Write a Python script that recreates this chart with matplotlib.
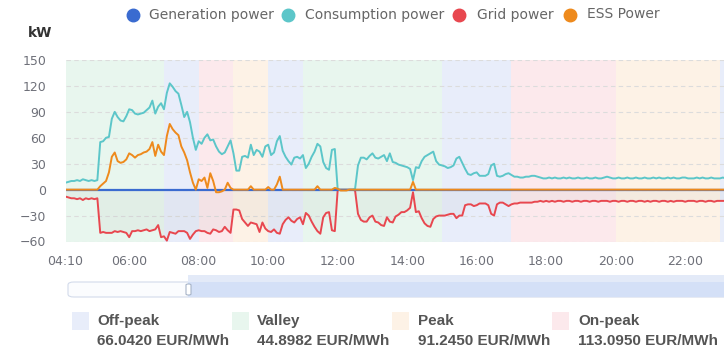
import matplotlib

matplotlib.use("Agg")
import matplotlib.pyplot as plt
import numpy as np
import pandas as pd
from matplotlib.lines import Line2D
from matplotlib.patches import FancyBboxPatch, Rectangle

W, H = 724, 355

# 5-minute samples from 04:10 to 23:10, one row per hour (starting at :10)
consumption = [
    8, 9, 10, 10, 11, 10, 12, 11, 10, 11, 10, 11,
    55, 56, 60, 61, 82, 90, 84, 80, 79, 85, 93, 92,
    88, 87, 88, 89, 92, 95, 103, 88, 96, 100, 93, 112,
    123, 119, 114, 111, 98, 84, 90, 78, 60, 46, 56, 53,
    60, 64, 57, 58, 50, 44, 41, 43, 50, 57, 42, 22,
    22, 38, 39, 37, 52, 40, 46, 44, 38, 50, 52, 40,
    43, 56, 62, 45, 38, 33, 29, 37, 38, 36, 40, 25,
    30, 38, 44, 53, 50, 32, 25, 23, 46, 47, 0, 0,
    0, 0, 0, 0, 1, 28, 37, 37, 35, 39, 42, 37,
    36, 38, 40, 33, 42, 32, 31, 29, 28, 27, 26, 24,
    11, 26, 25, 33, 38, 40, 42, 44, 33, 29, 28, 27,
    25, 26, 28, 36, 38, 31, 24, 18, 17, 19, 20, 16,
    16, 16, 18, 28, 30, 16, 15, 16, 18, 19, 17, 15,
    15, 14, 14, 15, 15, 16, 16, 15, 14, 13, 13, 14,
    13, 14, 13, 13, 14, 13, 14, 13, 13, 14, 13, 13,
    14, 13, 13, 14, 13, 13, 14, 15, 14, 13, 13, 14,
    13, 13, 14, 13, 13, 14, 13, 13, 14, 13, 13, 14,
    13, 14, 13, 13, 14, 13, 14, 13, 13, 14, 14, 13,
    13, 13, 14, 13, 14, 13, 13, 14, 13, 13, 13, 14, 13,
]

ess = [
    0, 0, 0, 0, 0, 0, 0, 0, 0, 0, 0, 0,
    4, 7, 10, 20, 38, 43, 33, 31, 32, 35, 42, 40,
    37, 40, 41, 43, 44, 47, 55, 39, 52, 44, 40, 62,
    76, 70, 66, 63, 50, 43, 34, 20, 8, 0, 12, 10,
    14, 2, 19, 10, -3, -3, -2, 0, 8, 2, 0, 0,
    0, 0, 0, 0, 4, 0, 0, 0, 0, 0, 3, 0,
    0, 6, 15, 0, 0, 0, 0, 0, 0, 0, 0, 0,
    0, 0, 0, 4, 0, 0, 0, 0, 0, 2, 1, -1,
    -1, -1, 0, 0, 0, 0, 0, 0, 0, 0, 0, 0,
    0, 0, 0, 0, 0, 0, 0, 0, 0, 0, 0, 0,
    9, 0, 0, 0, 0, 0, 0, 0, 0, 0, 0, 0,
    0, 0, 0, 0, 0, 0, 0, 0, 0, 0, 0, 0,
    0, 0, 0, 0, 0, 0, 0, 0, 0, 0, 0, 0,
    0, 0, 0, 0, 0, 0, 0, 0, 0, 0, 0, 0,
    0, 0, 0, 0, 0, 0, 0, 0, 0, 0, 0, 0,
    0, 0, 0, 0, 0, 0, 0, 0, 0, 0, 0, 0,
    0, 0, 0, 0, 0, 0, 0, 0, 0, 0, 0, 0,
    0, 0, 0, 0, 0, 0, 0, 0, 0, 0, 0, 0,
    0, 0, 0, 0, 0, 0, 0, 0, 0, 0, 0, 0, 0,
]

grid = [
    -8, -9, -10, -10, -11, -10, -12, -10, -11, -10, -11, -10,
    -50, -49, -50, -50, -50, -48, -49, -48, -49, -50, -55, -48,
    -48, -47, -48, -47, -46, -48, -47, -46, -41, -55, -54, -59,
    -49, -50, -51, -48, -48, -48, -50, -57, -52, -48, -47, -48,
    -48, -50, -51, -46, -47, -49, -48, -43, -47, -50, -23, -23,
    -24, -34, -38, -42, -38, -39, -40, -49, -38, -45, -48, -49,
    -46, -50, -51, -40, -35, -32, -36, -38, -34, -32, -40, -27,
    -30, -37, -43, -48, -51, -32, -27, -26, -47, -48, 0, 0,
    0, 0, 0, 0, -1, -28, -35, -37, -37, -32, -30, -37,
    -38, -41, -42, -32, -37, -38, -31, -29, -26, -26, -24, -21,
    -3, -26, -25, -33, -39, -42, -43, -34, -31, -30, -30, -30,
    -29, -28, -28, -33, -30, -30, -18, -17, -17, -19, -18, -16,
    -16, -16, -18, -28, -30, -17, -15, -15, -17, -19, -17, -16,
    -16, -15, -15, -15, -15, -15, -14, -14, -13, -14, -13, -14,
    -13, -14, -13, -13, -14, -13, -13, -14, -13, -13, -14, -13,
    -13, -14, -13, -13, -14, -13, -13, -13, -14, -13, -13, -14,
    -13, -13, -14, -13, -13, -14, -13, -13, -14, -13, -14, -13,
    -13, -14, -13, -13, -14, -13, -14, -13, -13, -13, -14, -13,
    -13, -13, -14, -13, -13, -14, -13, -13, -14, -13, -13, -13, -13,
]

generation = [0] * len(consumption)

# tariff periods (start hour, end hour, kind)
periods = [
    (4 + 10 / 60, 7, "Valley"),
    (7, 8, "Off-peak"),
    (8, 9, "On-peak"),
    (9, 10, "Peak"),
    (10, 11, "Off-peak"),
    (11, 15, "Valley"),
    (15, 17, "Off-peak"),
    (17, 20, "On-peak"),
    (20, 23, "Peak"),
    (23, 24, "Off-peak"),
]
tariff_names = ["Off-peak", "Valley", "Peak", "On-peak"]
tariff_prices = ["66.0420 EUR/MWh", "44.8982 EUR/MWh", "91.2450 EUR/MWh", "113.0950 EUR/MWh"]
tariff_colors = {
    "Off-peak": "#e8edfa",
    "Valley": "#e8f6ee",
    "Peak": "#fdf2e6",
    "On-peak": "#fce9ec",
}

series_names = ["Generation power", "Consumption power", "Grid power", "ESS Power"]
series_colors = ["#3a6bd0", "#5cc6c9", "#e8474f", "#ee8a1c"]

x_ticks = [4 + 10 / 60, 6, 8, 10, 12, 14, 16, 18, 20, 22]
x_labels = ["04:10", "06:00", "08:00", "10:00", "12:00", "14:00", "16:00", "18:00", "20:00", "22:00"]
y_ticks = [-60, -30, 0, 30, 60, 90, 120, 150]

t = pd.date_range("2024-01-01 04:10", periods=len(consumption), freq="5min")
hours = (t.hour + t.minute / 60).to_numpy()


def fx(px):
    return px / W


def fy(py):
    return 1 - py / H


plt.rcParams["font.family"] = ["DejaVu Sans"]
fig = plt.figure(figsize=(W / 100, H / 100), dpi=100)
ax = fig.add_axes([fx(65.5), fy(241.5), 1 - fx(65.5), fy(60) - fy(241.5)])

for start, end, kind in periods:
    ax.axvspan(start, end, color=tariff_colors[kind], lw=0, zorder=0)

for y in y_ticks:
    ax.axhline(y, color="#dcdcdc", lw=0.8, ls=(0, (4, 3)), zorder=1)

ax.fill_between(hours, grid, 0, color="#8a8a8a", alpha=0.07, lw=0, zorder=2)

ax.plot(hours, grid, color=series_colors[2], lw=1.4, zorder=3)
ax.plot(hours, consumption, color=series_colors[1], lw=1.4, zorder=3)
ax.plot(hours, generation, color=series_colors[0], lw=1.6, zorder=4)
ax.plot(hours, ess, color=series_colors[3], lw=1.4, zorder=5)

ax.set_xlim(4 + 10 / 60, 23 + 7 / 60)
ax.set_ylim(-60, 150)
ax.set_xticks(x_ticks)
ax.set_xticklabels(x_labels)
ax.set_yticks(y_ticks)
ax.tick_params(length=0, colors="#6e7079", labelsize=9)
ax.tick_params(axis="y", pad=14)
ax.tick_params(axis="x", pad=10)
for s in ax.spines.values():
    s.set_visible(False)

fig.text(fx(40), fy(33), "kW", ha="center", va="center", fontsize=10, fontweight="bold", color="#333333")

# top legend
leg_marker_x = [132.5, 288, 459, 570]
leg_text_x = [149, 305, 477, 587]
for name, col, mx, tx in zip(series_names, series_colors, leg_marker_x, leg_text_x):
    fig.add_artist(Line2D([fx(mx)], [fy(14.5)], marker="o", markersize=9, color=col, lw=0,
                          transform=fig.transFigure))
    fig.text(fx(tx), fy(14.5), name, ha="left", va="center", fontsize=10, color="#666666")

# slider (data zoom)
fig.add_artist(FancyBboxPatch((fx(68), fy(297)), fx(740) - fx(68), fy(282) - fy(297),
                              boxstyle="round,pad=0,rounding_size=0.008", transform=fig.transFigure,
                              facecolor="#fbfcfe", edgecolor="#d3dbeb", lw=0.8))
fig.add_artist(Rectangle((fx(188), fy(297)), fx(740) - fx(188), fy(282) - fy(297),
                         transform=fig.transFigure, facecolor="#d4e0f7", edgecolor="none"))
fig.add_artist(Rectangle((fx(188), fy(282)), fx(740) - fx(188), fy(275) - fy(282),
                         transform=fig.transFigure, facecolor="#e3eaf8", edgecolor="none"))
fig.add_artist(FancyBboxPatch((fx(186), fy(295)), fx(191) - fx(186), fy(284) - fy(295),
                              boxstyle="round,pad=0,rounding_size=0.003", transform=fig.transFigure,
                              facecolor="#ffffff", edgecolor="#a7b4c8", lw=0.8))

# tariff legend
for i, (name, price) in enumerate(zip(tariff_names, tariff_prices)):
    x0 = 71.5 + i * 160.3
    fig.add_artist(Rectangle((fx(x0), fy(330)), fx(17), fy(312) - fy(330),
                             transform=fig.transFigure, facecolor=tariff_colors[name], edgecolor="none"))
    fig.text(fx(x0 + 25.5), fy(321), name, ha="left", va="center", fontsize=11,
             fontweight="bold", color="#555555", family="Liberation Sans")
    fig.text(fx(x0 + 25.5), fy(341), price, ha="left", va="center", fontsize=11,
             fontweight="bold", color="#555555", family="Liberation Sans")

fig.savefig("out.png", dpi=100)
